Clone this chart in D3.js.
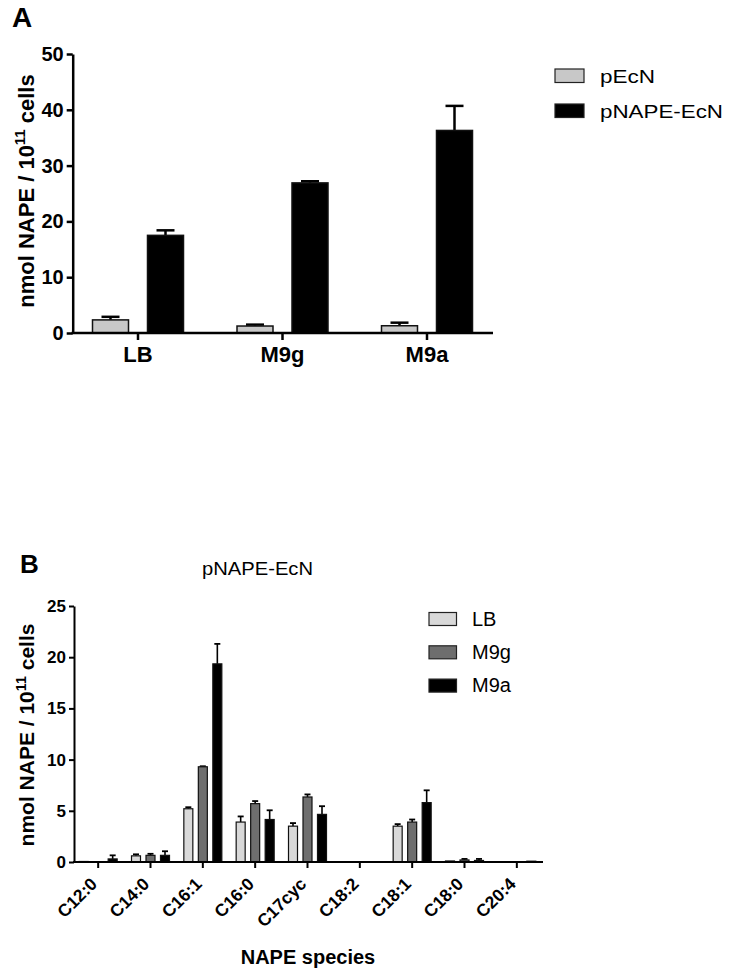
<!DOCTYPE html>
<html><head><meta charset="utf-8">
<script src="https://cdn.jsdelivr.net/npm/d3@7/dist/d3.min.js"></script>
<style>body{margin:0;background:#fff}svg{display:block}text{font-family:"Liberation Sans",Arial,sans-serif}</style>
</head><body>
<script>
// ---- Panel A data ----
const groupsA = ["LB", "M9g", "M9a"];
const seriesA = ["pEcN", "pNAPE-EcN"];
const pEcN = [2.35, 1.25, 1.3];
const pEcNErr = [0.55, 0.25, 0.55];
const pNAPE = [17.5, 26.9, 36.3];
const pNAPEErr = [0.9, 0.3, 4.4];
const ticksA = [0, 10, 20, 30, 40, 50];

// ---- Panel B data ----
const species = ["C12:0", "C14:0", "C16:1", "C16:0", "C17cyc", "C18:2", "C18:1", "C18:0", "C20:4"];
const seriesB = ["LB", "M9g", "M9a"];
const LB = [0.05, 0.6, 5.2, 3.9, 3.5, 0, 3.5, 0.1, 0];
const LBErr = [0, 0.15, 0.15, 0.55, 0.3, 0, 0.2, 0, 0];
const M9g = [0, 0.65, 9.3, 5.7, 6.35, 0, 3.9, 0.2, 0];
const M9gErr = [0, 0.15, 0.05, 0.25, 0.25, 0, 0.25, 0.1, 0];
const M9a = [0.3, 0.65, 19.35, 4.15, 4.65, 0, 5.8, 0.15, 0.08];
const M9aErr = [0.35, 0.4, 1.95, 0.9, 0.8, 0, 1.2, 0.15, 0];
const ticksB = [0, 5, 10, 15, 20, 25];

const W = 729, H = 975;
const FONT = "Liberation Sans, Arial, sans-serif";
const svg = d3.select("body").append("svg").attr("width", W).attr("height", H);

// ================= Panel A =================
const yA = d3.scaleLinear().domain([0, 50]).range([333, 54]);
const xA = d3.scaleBand().domain(groupsA).range([65.75, 499.25]);
const subA = d3.scalePoint().domain(seriesA).range([-27.5, 27.5]);
const colA = d3.scaleOrdinal().domain(seriesA).range(["#c8c8c8", "#000000"]);
const bwA = 36;
const dataA = [];
groupsA.forEach((g, i) => {
  dataA.push({g, s: "pEcN", v: pEcN[i], e: pEcNErr[i]});
  dataA.push({g, s: "pNAPE-EcN", v: pNAPE[i], e: pNAPEErr[i]});
});
const gA = svg.append("g");
dataA.filter(d => d.e > 0).forEach(d => {
  const cx = xA(d.g) + xA.bandwidth() / 2 + subA(d.s);
  gA.append("line").attr("x1", cx).attr("x2", cx).attr("y1", yA(d.v)).attr("y2", yA(d.v + d.e))
    .attr("stroke", "#000").attr("stroke-width", 2.5);
  gA.append("line").attr("x1", cx - 9).attr("x2", cx + 9).attr("y1", yA(d.v + d.e)).attr("y2", yA(d.v + d.e))
    .attr("stroke", "#000").attr("stroke-width", 2.5);
});
gA.selectAll("rect.bar").data(dataA).join("rect")
  .attr("x", d => xA(d.g) + xA.bandwidth() / 2 + subA(d.s) - bwA / 2)
  .attr("y", d => yA(d.v))
  .attr("width", bwA)
  .attr("height", d => yA(0) - yA(d.v))
  .attr("fill", d => colA(d.s))
  .attr("stroke", "#111").attr("stroke-width", 1.5);

const axYA = gA.append("g").attr("transform", "translate(72.7,0)")
  .call(d3.axisLeft(yA).tickValues(ticksA).tickSize(6).tickSizeOuter(0).tickPadding(3));
axYA.select(".domain").attr("stroke-width", 2.5);
axYA.selectAll(".tick line").attr("stroke-width", 2.5);
axYA.selectAll(".tick text").attr("font-size", 20).attr("font-weight", "bold").attr("fill", "#000")
  .attr("font-family", FONT);
const axXA = gA.append("g").attr("transform", "translate(0,333)")
  .call(d3.axisBottom(xA).tickSize(7).tickSizeOuter(0).tickPadding(6));
axXA.select(".domain").remove();
gA.append("line").attr("x1", 71.5).attr("x2", 493).attr("y1", 333).attr("y2", 333)
  .attr("stroke", "#000").attr("stroke-width", 2.5);
axXA.selectAll(".tick line").attr("stroke-width", 2.5);
axXA.selectAll(".tick text").attr("font-size", 22).attr("font-weight", "bold").attr("fill", "#000")
  .attr("font-family", FONT);

function yLabel(g, x, y, size) {
  const t = g.append("text").attr("transform", `translate(${x},${y}) rotate(-90)`)
    .attr("text-anchor", "middle").attr("font-size", size).attr("font-weight", "bold");
  t.append("tspan").text("nmol NAPE / 10");
  t.append("tspan").attr("dy", -size * 0.4).attr("font-size", size * 0.68).text("11");
  t.append("tspan").attr("dy", size * 0.4).text(" cells");
}
yLabel(gA, 34, 191, 22);
svg.append("text").attr("x", 12).attr("y", 27).attr("font-size", 28).attr("font-weight", "bold").text("A");

const legA = svg.append("g");
seriesA.forEach((s, i) => {
  const y = 69 + i * 35;
  legA.append("rect").attr("x", 555).attr("y", y).attr("width", 29).attr("height", 13.5)
    .attr("fill", colA(s)).attr("stroke", "#222").attr("stroke-width", 1.2);
  legA.append("text").attr("x", 600).attr("y", y + 13.5).attr("font-size", 17.5)
    .attr("textLength", i === 0 ? 55 : 123).attr("lengthAdjust", "spacingAndGlyphs").text(s);
});

// ================= Panel B =================
const yB = d3.scaleLinear().domain([0, 25]).range([862, 606]);
const xB = d3.scaleBand().domain(species).range([72, 543]);
const subB = d3.scalePoint().domain(seriesB).range([-14.5, 14.5]);
const colB = d3.scaleOrdinal().domain(seriesB).range(["#d9d9d9", "#6e6e6e", "#000000"]);
const bwB = 9;
const valsB = {LB: [LB, LBErr], M9g: [M9g, M9gErr], M9a: [M9a, M9aErr]};
const dataB = [];
species.forEach((c, i) => seriesB.forEach(s => dataB.push({c, s, v: valsB[s][0][i], e: valsB[s][1][i]})));
const gB = svg.append("g");
dataB.filter(d => d.e > 0).forEach(d => {
  const cx = xB(d.c) + xB.bandwidth() / 2 + subB(d.s);
  gB.append("line").attr("x1", cx).attr("x2", cx).attr("y1", yB(d.v)).attr("y2", yB(d.v + d.e))
    .attr("stroke", "#000").attr("stroke-width", 1.6);
  gB.append("line").attr("x1", cx - 3).attr("x2", cx + 3).attr("y1", yB(d.v + d.e)).attr("y2", yB(d.v + d.e))
    .attr("stroke", "#000").attr("stroke-width", 1.8);
});
gB.selectAll("rect.bar").data(dataB.filter(d => d.v > 0)).join("rect")
  .attr("x", d => xB(d.c) + xB.bandwidth() / 2 + subB(d.s) - bwB / 2)
  .attr("y", d => yB(d.v))
  .attr("width", bwB)
  .attr("height", d => yB(0) - yB(d.v))
  .attr("fill", d => colB(d.s))
  .attr("stroke", "#111").attr("stroke-width", 1.2);

const axYB = gB.append("g").attr("transform", "translate(74,0)")
  .call(d3.axisLeft(yB).tickValues(ticksB).tickSize(5).tickSizeOuter(0).tickPadding(3));
axYB.select(".domain").attr("stroke-width", 2);
axYB.selectAll(".tick line").attr("stroke-width", 2);
axYB.selectAll(".tick text").attr("font-size", 17).attr("font-weight", "bold").attr("fill", "#000")
  .attr("font-family", FONT);
const axXB = gB.append("g").attr("transform", "translate(0,862)")
  .call(d3.axisBottom(xB).tickSize(6).tickSizeOuter(0).tickFormat(""));
axXB.select(".domain").remove();
gB.append("line").attr("x1", 73).attr("x2", 543).attr("y1", 862).attr("y2", 862)
  .attr("stroke", "#000").attr("stroke-width", 2);
axXB.selectAll(".tick line").attr("stroke-width", 2);
gB.selectAll("text.cat").data(species).join("text")
  .attr("class", "cat")
  .attr("transform", d => `translate(${xB(d) + xB.bandwidth() / 2},885) rotate(-45)`)
  .attr("text-anchor", "end")
  .attr("font-size", 17.5).attr("font-weight", "bold").attr("fill", "#000")
  .text(d => d);

yLabel(gB, 34, 735, 21);
svg.append("text").attr("x", 20).attr("y", 573).attr("font-size", 26).attr("font-weight", "bold").text("B");
svg.append("text").attr("x", 202).attr("y", 575).attr("font-size", 18)
  .attr("textLength", 111).attr("lengthAdjust", "spacingAndGlyphs").text("pNAPE-EcN");
svg.append("text").attr("x", 308).attr("y", 964).attr("text-anchor", "middle")
  .attr("font-size", 20).attr("font-weight", "bold").text("NAPE species");

seriesB.forEach((s, i) => {
  const y = 612.5 + i * 33.3;
  svg.append("rect").attr("x", 429).attr("y", y).attr("width", 27.5).attr("height", 13)
    .attr("fill", colB(s)).attr("stroke", "#222").attr("stroke-width", 1.2);
  svg.append("text").attr("x", 472).attr("y", y + 13).attr("font-size", 20).text(s);
});
</script>
</body></html>
